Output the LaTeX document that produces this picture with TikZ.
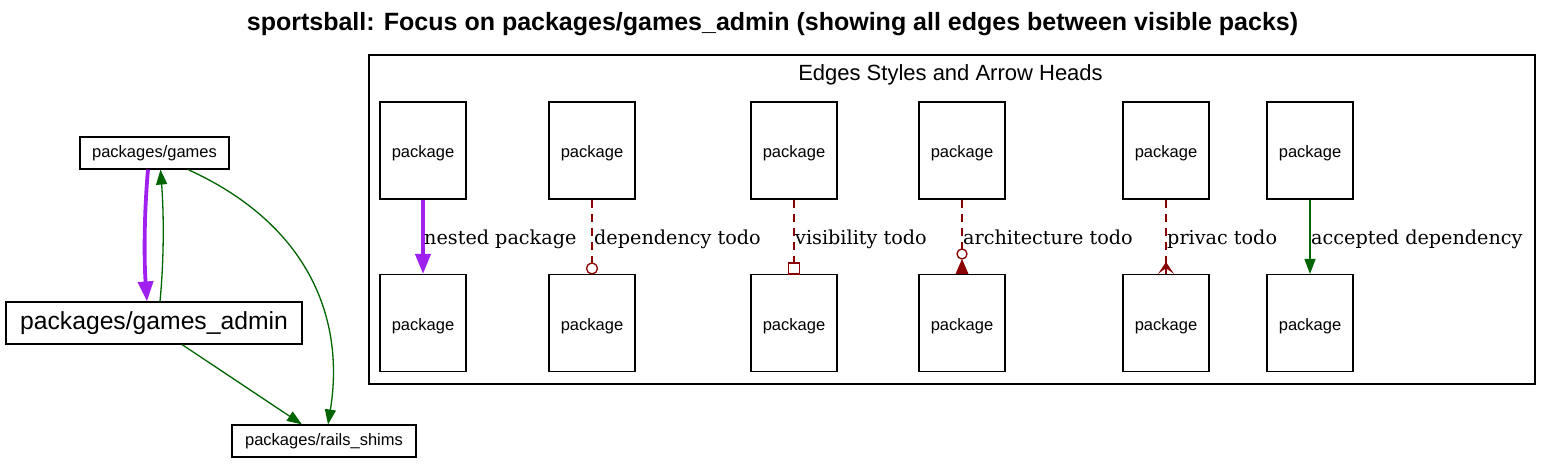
\documentclass[tikz,border=0pt]{standalone}
\usepackage{fontspec}
\newfontfamily\arialf{Liberation Sans}
\newfontfamily\serf{DejaVu Serif}
\usetikzlibrary{arrows.meta}
\definecolor{nestc}{HTML}{A020F0}
\definecolor{todoc}{HTML}{8B0000}
\definecolor{okc}{HTML}{006400}
\tikzset{
  pkgbox/.style={draw, line width=1.1pt, minimum width=86pt, minimum height=97pt, inner sep=0pt, text height=14pt, text depth=0pt, font=\arialf\fontsize{16.5}{19}\selectfont},
  smallbox/.style={draw, line width=1.1pt, inner sep=0pt, font=\arialf\fontsize{16.5}{19}\selectfont},
  bigbox/.style={draw, line width=1.1pt, inner sep=0pt, font=\arialf\fontsize{24.7}{28}\selectfont},
  nestedge/.style={draw=nestc, line width=3.8pt, -{Triangle[length=20pt,width=15pt]}},
  okedge/.style={draw=okc, line width=1.3pt, -{Triangle[length=15pt,width=11pt]}},
  todoedge/.style={draw=todoc, line width=1.3pt, dash pattern=on 8pt off 6pt},
  todohead/.style={draw=todoc, line width=1.3pt, solid},
  elabel/.style={anchor=base west, inner sep=0pt, font=\serf\fontsize{19.2}{23}\selectfont},
}
\begin{document}
\begin{tikzpicture}[x=1pt,y=-1pt]
\useasboundingbox (0,0) rectangle (1552,463);
% title
\node[anchor=base, inner sep=0pt, font=\arialf\bfseries\fontsize{25}{29}\selectfont] (title) at (772.5,30) {sportsball: Focus on packages/games\_admin (showing all edges between visible packs)};
% cluster
\draw[line width=1.1pt] (369,55) rectangle (1535,384);
\node[anchor=base, inner sep=0pt, font=\arialf\fontsize{22}{26}\selectfont] (clabel) at (950.5,80) {Edges Styles and Arrow Heads};
% left graph
\node[smallbox, minimum width=149pt, minimum height=32pt] (games) at (154.5,153) {packages/games};
\node[bigbox, minimum width=296pt, minimum height=42pt] (admin) at (154,323) {packages/games\_admin};
\node[smallbox, minimum width=184pt, minimum height=32pt] (rails) at (324,441) {packages/rails\_shims};
\draw[nestedge] ([xshift=-6.5pt]games.south) .. controls (144,215) and (144,260) .. ([xshift=-7pt]admin.north);
\draw[okedge] ([xshift=6pt]admin.north) .. controls (164,260) and (164,215) .. ([xshift=6pt]games.south);
\draw[okedge] ([xshift=33.5pt]games.south) .. controls (310,225) and (345,320) .. ([xshift=4pt]rails.north);
\draw[okedge] ([xshift=28pt]admin.south) -- ([xshift=-22pt]rails.north);
% legend boxes
\foreach \i/\x in {1/423,2/592,3/794,4/962,5/1166,6/1310}{
  \node[pkgbox] (p\i) at (\x,150.5) {package};
  \node[pkgbox] (q\i) at (\x,323) {package};
}
\coordinate (lrow) at (0,244);
% nested package
\draw[nestedge] (p1.south) -- (q1.north);
\node[elabel] (l1) at ([xshift=1pt]p1.south |- lrow) {nested package};
% dependency todo
\draw[todoedge] (p2.south) -- ([yshift=11pt]q2.north);
\draw[todohead, fill=white] ([yshift=5.5pt]q2.north) circle (5.5pt);
\node[elabel] (l2) at ([xshift=2pt]p2.south |- lrow) {dependency todo};
% visibility todo
\draw[todoedge] (p3.south) -- ([yshift=11pt]q3.north);
\draw[todohead, fill=white] ([xshift=-5.5pt]q3.north) rectangle ([xshift=5.5pt,yshift=11pt]q3.north);
\node[elabel] (l3) at ([xshift=1pt]p3.south |- lrow) {visibility todo};
% architecture todo
\draw[todoedge] (p4.south) -- ([yshift=25pt]q4.north);
\draw[todohead, fill=white] ([yshift=20pt]q4.north) circle (5pt);
\fill[todoc] ([xshift=-6.5pt]q4.north) -- ([yshift=15pt]q4.north) -- ([xshift=6.5pt]q4.north) -- cycle;
\node[elabel] (l4) at ([xshift=1pt]p4.south |- lrow) {architecture todo};
% privac todo
\draw[todoedge] (p5.south) -- ([yshift=12pt]q5.north);
\fill[todoc, shift={(q5.north)}] (0,-12) -- (-8,0) -- (-1.2,-5) -- (0,0) -- (1.2,-5) -- (8,0) -- cycle;
\draw[todohead, shift={(q5.north)}] (0,-12) -- (0,0);
\node[elabel] (l5) at ([xshift=1pt]p5.south |- lrow) {privac todo};
% accepted dependency
\draw[okedge] (p6.south) -- (q6.north);
\node[elabel] (l6) at ([xshift=1pt]p6.south |- lrow) {accepted dependency};
\end{tikzpicture}
\end{document}
